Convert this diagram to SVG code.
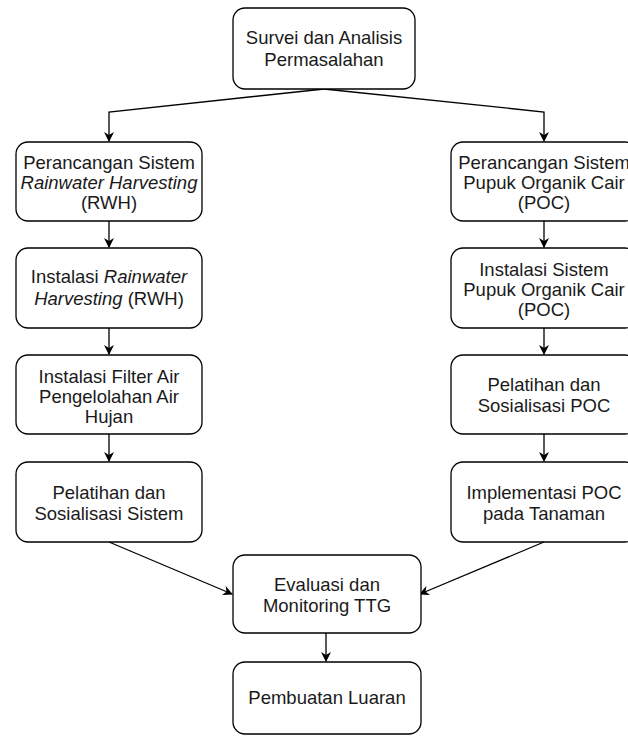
<svg xmlns="http://www.w3.org/2000/svg" width="628" height="736" viewBox="0 0 628 736">
<defs>
<style>
.box{fill:#fff;stroke:#000;stroke-width:1.3}
.t{font-family:"Liberation Sans",Arial,sans-serif;font-size:18.5px;fill:#1a1a1a;text-anchor:middle}
.i{font-style:italic}
.c{fill:none;stroke:#000;stroke-width:1.3}
</style>
<marker id="a" viewBox="0 0 10 10" refX="9" refY="5" markerWidth="10" markerHeight="10" markerUnits="userSpaceOnUse" orient="auto">
<path d="M0,0 L10,5 L0,10 L3,5 Z" fill="#000"/>
</marker>
</defs>
<rect width="628" height="736" fill="#fff"/>
<g id="connectors">
<path class="c" d="M324,89 L109,112 L109,141" marker-end="url(#a)"/>
<path class="c" d="M324,89 L544,112 L544,141" marker-end="url(#a)"/>
<path class="c" d="M109,221 L109,247" marker-end="url(#a)"/>
<path class="c" d="M109,328 L109,354" marker-end="url(#a)"/>
<path class="c" d="M109,434 L109,461" marker-end="url(#a)"/>
<path class="c" d="M544,221 L544,247" marker-end="url(#a)"/>
<path class="c" d="M544,328 L544,354" marker-end="url(#a)"/>
<path class="c" d="M544,434 L544,461" marker-end="url(#a)"/>
<path class="c" d="M109,542 L232,594" marker-end="url(#a)"/>
<path class="c" d="M544,542 L420,594" marker-end="url(#a)"/>
<path class="c" d="M326,633 L326,661" marker-end="url(#a)"/>
</g>
<g id="survei">
<rect class="box" x="233" y="8" width="182" height="81" rx="12"/>
<text class="t" x="324" y="44">Survei dan Analisis</text>
<text class="t" x="324" y="66">Permasalahan</text>
</g>
<g id="rwh-rancang">
<rect class="box" x="16" y="142" width="186" height="79" rx="12"/>
<text class="t" x="109" y="169">Perancangan Sistem</text>
<text class="t i" x="109" y="189">Rainwater Harvesting</text>
<text class="t" x="109" y="209">(RWH)</text>
</g>
<g id="rwh-instal">
<rect class="box" x="16" y="248" width="186" height="80" rx="12"/>
<text class="t" x="109" y="283">Instalasi <tspan class="i">Rainwater</tspan></text>
<text class="t" x="109" y="305"><tspan class="i">Harvesting</tspan> (RWH)</text>
</g>
<g id="filter">
<rect class="box" x="16" y="355" width="186" height="79" rx="12"/>
<text class="t" x="109" y="383">Instalasi Filter Air</text>
<text class="t" x="109" y="403">Pengelolahan Air</text>
<text class="t" x="109" y="423">Hujan</text>
</g>
<g id="pelatihan-sistem">
<rect class="box" x="16" y="462" width="186" height="80" rx="12"/>
<text class="t" x="109" y="499">Pelatihan dan</text>
<text class="t" x="109" y="520">Sosialisasi Sistem</text>
</g>
<g id="poc-rancang">
<rect class="box" x="451" y="142" width="186" height="79" rx="12"/>
<text class="t" x="544" y="169">Perancangan Sistem</text>
<text class="t" x="544" y="189">Pupuk Organik Cair</text>
<text class="t" x="544" y="209">(POC)</text>
</g>
<g id="poc-instal">
<rect class="box" x="451" y="248" width="186" height="80" rx="12"/>
<text class="t" x="544" y="276">Instalasi Sistem</text>
<text class="t" x="544" y="296">Pupuk Organik Cair</text>
<text class="t" x="544" y="316">(POC)</text>
</g>
<g id="poc-pelatihan">
<rect class="box" x="451" y="355" width="186" height="79" rx="12"/>
<text class="t" x="544" y="391">Pelatihan dan</text>
<text class="t" x="544" y="412">Sosialisasi POC</text>
</g>
<g id="poc-implementasi">
<rect class="box" x="451" y="462" width="186" height="80" rx="12"/>
<text class="t" x="544" y="499">Implementasi POC</text>
<text class="t" x="544" y="520">pada Tanaman</text>
</g>
<g id="evaluasi">
<rect class="box" x="233" y="555" width="188" height="78" rx="12"/>
<text class="t" x="327" y="591">Evaluasi dan</text>
<text class="t" x="327" y="612">Monitoring TTG</text>
</g>
<g id="luaran">
<rect class="box" x="233" y="662" width="188" height="72" rx="12"/>
<text class="t" x="327" y="704">Pembuatan Luaran</text>
</g>
</svg>
